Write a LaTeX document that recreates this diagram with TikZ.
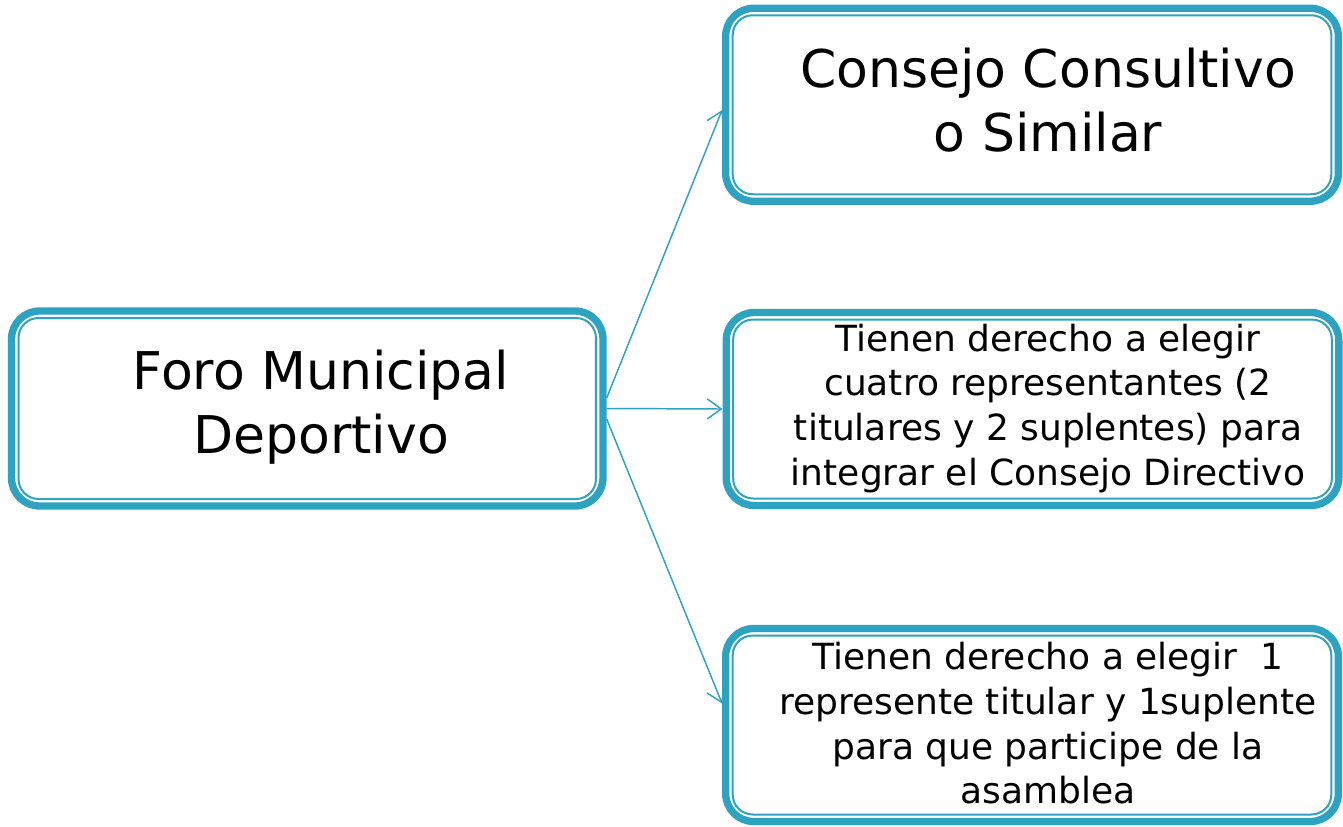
\documentclass[tikz,border=0pt]{standalone}
\usepackage{fontspec}
\setmainfont{DejaVu Sans}
\usepackage{tikz}
\usetikzlibrary{calc}
\usetikzlibrary{arrows.meta}
\definecolor{foroteal}{RGB}{46,163,193}
\tikzset{outerline/.style={draw=foroteal, line width=5.5pt, rounded corners=21pt}}
\tikzset{innerline/.style={draw=foroteal, line width=1.5pt, rounded corners=15pt}}

\begin{document}
\begin{tikzpicture}[x=0.75pt, y=-0.75pt]
	% Default action for each kind of node
	\tikzstyle{bigbox}=[outerline, shape=rectangle, minimum width=443.6pt, minimum height=146.25pt];
	\tikzstyle{smallbox}=[outerline, shape=rectangle, minimum width=459.5pt, minimum height=144.75pt];
	\tikzstyle{bigtext}=[align=center, font=\fontsize{39pt}{48pt}\selectfont];
	\tikzstyle{smalltext}=[align=center, font=\fontsize{27pt}{33.4pt}\selectfont];
	\tikzstyle{link}=[draw=foroteal, line width=1.1pt, -{Straight Barb[length=10.5pt, width=15pt]}];

	\useasboundingbox (0,0) rectangle (1343,826);

	% LHS
	\node[bigbox] (foro) at (307.25,408.5) {};
	\node[bigtext] (foro text) at (321,407.5) {Foro Municipal\\Deportivo};

	% RHS
	\node[smallbox] (consejo) at (1032,104.75) {};
	\node[smallbox] (directivo) at (1032.5,409) {};
	\node[smallbox] (asamblea) at (1032,725) {};

	\node[bigtext] (consejo text) at (1048,100.25) {Consejo Consultivo\\o Similar};
	\node[smalltext] (directivo text) at (1048,408.3) {Tienen derecho a elegir\\cuatro representantes (2\\titulares y 2 suplentes) para\\integrar el Consejo Directivo};
	\node[smalltext] (asamblea text) at (1048,723.3) {Tienen derecho a elegir~ 1\\represente titular y 1suplente\\para que participe de la\\asamblea};

	% Inner lines
	\draw[innerline] ($(foro.north west)+(8pt,-8pt)$) rectangle ($(foro.south east)+(-8pt,8pt)$);
	\draw[innerline] ($(consejo.north west)+(8pt,-8pt)$) rectangle ($(consejo.south east)+(-8pt,8pt)$);
	\draw[innerline] ($(directivo.north west)+(8pt,-8pt)$) rectangle ($(directivo.south east)+(-8pt,8pt)$);
	\draw[innerline] ($(asamblea.north west)+(8pt,-8pt)$) rectangle ($(asamblea.south east)+(-8pt,8pt)$);

	% Arrows
	\draw[link] (foro.2.5) -- (consejo.181.5);
	\draw[link] (foro.east) -- (directivo.west);
	\draw[link] (foro.-2.5) -- (asamblea.176.3);
\end{tikzpicture}
\end{document}
